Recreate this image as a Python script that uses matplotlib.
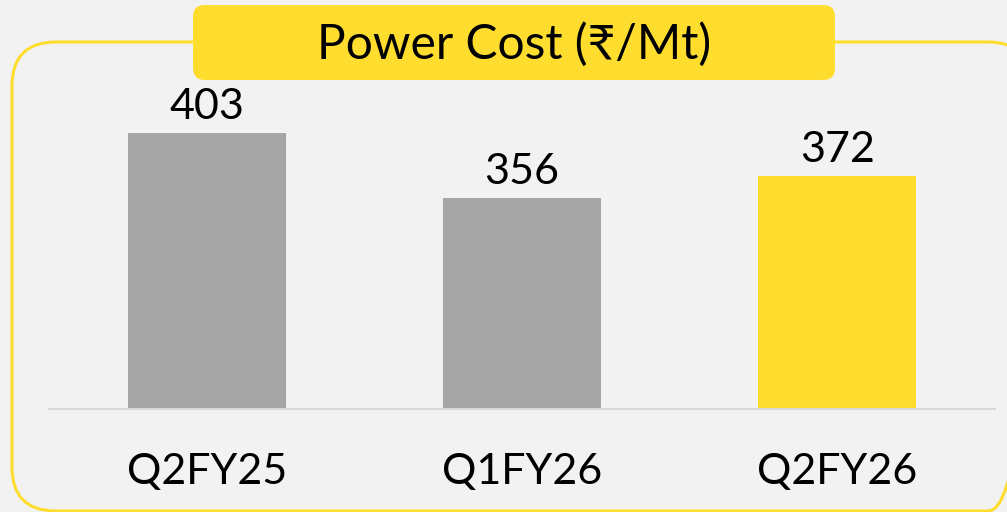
import matplotlib.pyplot as plt
from matplotlib.patches import FancyBboxPatch

quarters = ["Q2FY25", "Q1FY26", "Q2FY26"]
power_cost = [403, 356, 372]
bar_colors = ["#a6a6a6", "#a6a6a6", "#ffdd2f"]
title = "Power Cost (₹/Mt)"

plt.rcParams["font.family"] = ["Lato", "Noto Sans", "DejaVu Sans"]

W, H = 1007, 512
fig = plt.figure(figsize=(W / 100, H / 100), dpi=100, facecolor="#f2f2f2")

# background layer in pixel coords for the frame and title box
bg = fig.add_axes([0, 0, 1, 1], zorder=0)
bg.set_xlim(0, W)
bg.set_ylim(H, 0)
bg.axis("off")

frame = FancyBboxPatch((12, 42), 1020, 469, boxstyle="round,pad=0,rounding_size=44",
                       fc="none", ec="#ffdd2f", lw=2.2)
bg.add_patch(frame)
title_box = FancyBboxPatch((193, 5), 642, 75, boxstyle="round,pad=0,rounding_size=12",
                           fc="#ffdd2f", ec="none")
bg.add_patch(title_box)
bg.text(514, 45, title, ha="center", va="center", fontsize=34.5, color="black")

ax = fig.add_axes([49 / W, 1 - 409 / H, 946 / W, 341 / H], zorder=1)
ax.patch.set_alpha(0)
x = range(len(quarters))
bars = ax.bar(x, power_cost, width=0.5, color=bar_colors, bottom=0)
ax.set_xlim(-0.5, 2.5)
ax.set_ylim(203.4, 450)

for b, v in zip(bars, power_cost):
    ax.annotate(str(v), (b.get_x() + b.get_width() / 2, v), xytext=(0, 5),
                textcoords="offset points", ha="center", va="bottom", fontsize=31)

for s in ["top", "right", "left"]:
    ax.spines[s].set_visible(False)
ax.spines["bottom"].set_color("#d9d9d9")
ax.spines["bottom"].set_linewidth(1.5)
ax.set_yticks([])
ax.set_xticks(list(x))
ax.set_xticklabels(quarters, fontsize=31)
ax.tick_params(axis="x", length=0, pad=32)

fig.savefig("out.png", dpi=100, facecolor=fig.get_facecolor())
